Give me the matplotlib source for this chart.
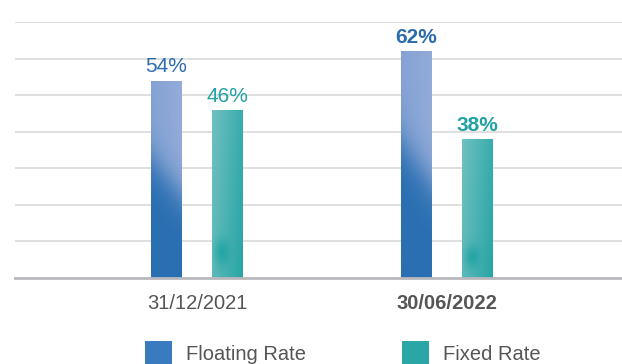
import numpy as np
import matplotlib
matplotlib.use("Agg")
import matplotlib.pyplot as plt
from matplotlib.colors import LinearSegmentedColormap
from matplotlib.patches import Rectangle

# Données
categories = ["31/12/2021", "30/06/2022"]
series = ["Floating Rate", "Fixed Rate"]
floating = [54, 62]
fixed = [46, 38]

BLUE_DARK, BLUE_LIGHT = "#2a6fb2", "#93abd9"
TEAL_DARK, TEAL_LIGHT = "#1fa2a2", "#79c3c4"
BLUE_TXT, TEAL_TXT = "#2a6cae", "#22a2a3"
GREY_TXT = "#555555"

plt.rcParams["font.family"] = ["Liberation Sans", "DejaVu Sans"]

fig = plt.figure(figsize=(6.22, 3.64), dpi=100)
ax = fig.add_axes([15 / 622, 86 / 364, 607 / 622, 256 / 364])

x = np.arange(len(categories))
off, w = 0.122, 0.124

cm_blue = LinearSegmentedColormap.from_list("b", [BLUE_DARK, BLUE_LIGHT])
cm_teal = LinearSegmentedColormap.from_list("t", [TEAL_DARK, TEAL_LIGHT])

# texture "aquarelle" approximée par un dégradé
yy, xx = np.mgrid[0:1:120j, 0:1:30j]
tex_blue = 1 / (1 + np.exp(-(yy - 0.42 - 0.18 * (1 - xx)) / 0.06))
tex_blue = np.clip(tex_blue * (0.85 + 0.15 * xx), 0, 1)
tex_teal = np.clip(0.7 - 0.6 * xx + 0.2 * yy, 0, 1)
tex_teal -= 0.45 * np.exp(-(((xx - 0.3) / 0.25) ** 2 + ((yy - 0.15) / 0.08) ** 2))
tex_teal = np.clip(tex_teal, 0, 1)

def draw(xpos, vals, cmap, tex, txtcol, bolds):
    bars = ax.bar(xpos, vals, width=w, color=cmap(0.3), zorder=2, linewidth=0)
    for b, v, bold in zip(bars, vals, bolds):
        x0 = b.get_x()
        im = ax.imshow(tex[::-1], cmap=cmap, vmin=0, vmax=1, aspect="auto",
                       extent=[x0, x0 + w, 0, v], zorder=3, interpolation="bilinear")
        im.set_clip_path(b)
        ax.annotate(f"{v}%", (x0 + w / 2, v), xytext=(0, 5.8), textcoords="offset points",
                    ha="center", va="baseline", fontsize=15, color=txtcol,
                    fontweight="bold" if bold else "normal")

draw(x - off, floating, cm_blue, tex_blue, BLUE_TXT, [False, True])
draw(x + off, fixed, cm_teal, tex_teal, TEAL_TXT, [False, True])

ax.set_xlim(-0.728, 1.7)
ax.set_ylim(0, 70)
ax.set_yticks(np.arange(10, 80, 10))
ax.yaxis.grid(True, color="#dcdcdc", linewidth=1.3, zorder=0)
ax.set_axisbelow(True)
for s in ["top", "right", "left"]:
    ax.spines[s].set_visible(False)
ax.spines["bottom"].set_color("#b8b8bd")
ax.spines["bottom"].set_linewidth(2)
ax.spines["bottom"].set_zorder(4)
ax.tick_params(left=False, labelleft=False, bottom=False, labelbottom=False)

for i, lab in enumerate(categories):
    ax.annotate(lab, (x[i], 0), xytext=(0, -18.7), textcoords="offset points",
                ha="center", va="center", fontsize=14.5, color=GREY_TXT,
                fontweight="bold" if i == 1 else "normal")

# légende manuelle
W, H = 622, 364
for px, col, lab in [(145, "#3a7bbf", series[0]), (402, "#2aa6a6", series[1])]:
    fig.add_artist(Rectangle((px / W, (H - 368) / H), 27 / W, 27 / H,
                             transform=fig.transFigure, color=col, linewidth=0))
    fig.text((px + 41) / W, (H - 354) / H, lab, ha="left", va="center",
             fontsize=14.5, color=GREY_TXT)

fig.savefig("out.png", dpi=100)
